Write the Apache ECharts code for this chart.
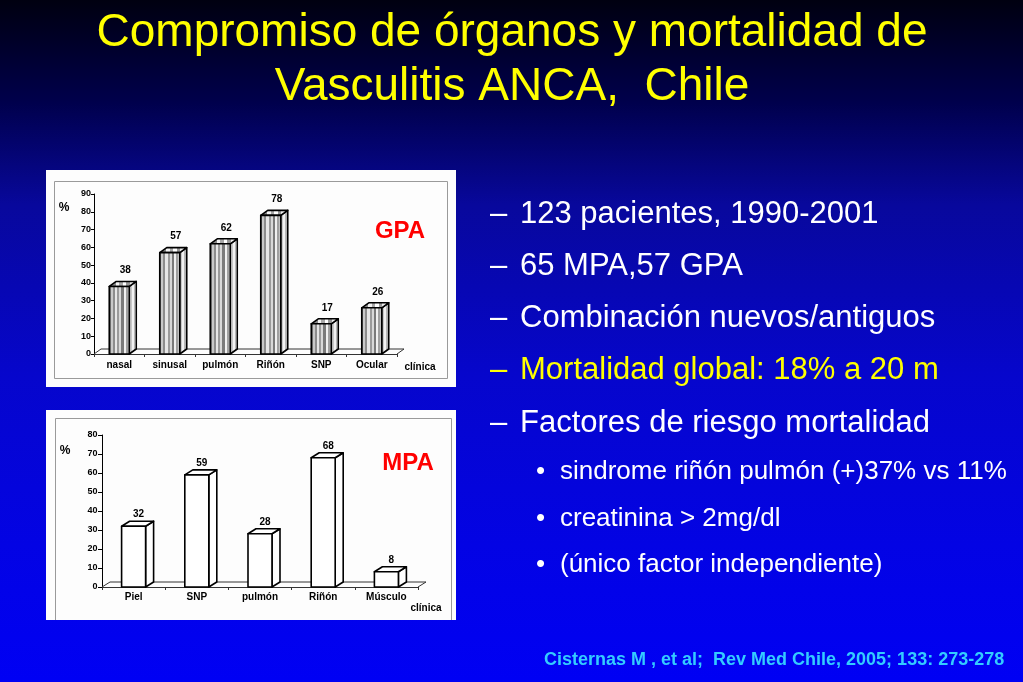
<!DOCTYPE html>
<html><head><meta charset="utf-8">
<script src="https://cdn.jsdelivr.net/npm/echarts@6/dist/echarts.min.js"></script>
<style>html,body{margin:0;padding:0;background:#000;}#c{width:1023px;height:682px;}</style>
</head><body><div id="c"></div>
<script>
// ---- data ----
const gpaCategories = ['nasal', 'sinusal', 'pulmón', 'Riñón', 'SNP', 'Ocular'];
const gpaValues = [38, 57, 62, 78, 17, 26];
const gpaTicks = [0, 10, 20, 30, 40, 50, 60, 70, 80, 90];
const mpaCategories = ['Piel', 'SNP', 'pulmón', 'Riñón', 'Músculo'];
const mpaValues = [32, 59, 28, 68, 8];
const mpaTicks = [0, 10, 20, 30, 40, 50, 60, 70, 80];
const titleLines = ['Compromiso de órganos y mortalidad de', 'Vasculitis ANCA,  Chile'];
const bullets = ['123 pacientes, 1990-2001', '65 MPA,57 GPA', 'Combinación nuevos/antiguos', 'Mortalidad global: 18% a 20 m', 'Factores de riesgo mortalidad'];
const subBullets = ['sindrome riñón pulmón (+)37% vs 11%', 'creatinina > 2mg/dl', '(único factor independiente)'];
const citation = 'Cisternas M , et al;  Rev Med Chile, 2005; 133: 273-278';

const FF = '"Liberation Sans", Arial, sans-serif';
const chart = echarts.init(document.getElementById('c'), null, {renderer: 'canvas'});

function stripes(colors) {
  const stops = []; const n = colors.length;
  colors.forEach((c, i) => { stops.push({offset: i / n, color: c}); stops.push({offset: (i + 1) / n, color: c}); });
  return new echarts.graphic.LinearGradient(0, 0, 1, 0, stops);
}
const gpaFront = stripes(['#707070','#c8c8c8','#8c8c8c','#e6e6e6','#9a9a9a','#d8d8d8','#7a7a7a','#f0f0f0','#a0a0a0','#cccccc']);
const gpaSide = stripes(['#ffffff','#c8c8c8','#f2f2f2','#b8b8b8','#ffffff']);
const gpaTop = stripes(['#e0e0e0','#8c8c8c','#f4f4f4','#a8a8a8','#ffffff','#989898','#eeeeee','#b8b8b8']);

function bar3d(cfg) {
  return function (params, api) {
    const idx = api.value(0), v = api.value(1);
    const b = api.coord([idx, 0]), t = api.coord([idx, v]);
    const w = cfg.w, dx = cfg.dx, dy = cfg.dy;
    const xl = b[0] - w / 2, xr = b[0] + w / 2, yb = b[1], yt = t[1];
    const st = {stroke: '#000', lineWidth: cfg.lw, lineJoin: 'round'};
    return {type: 'group', children: [
      {type: 'polygon', shape: {points: [[xr, yb], [xr, yt], [xr + dx, yt - dy], [xr + dx, yb - dy]]}, style: Object.assign({fill: cfg.side}, st)},
      {type: 'polygon', shape: {points: [[xl, yt], [xr, yt], [xr + dx, yt - dy], [xl + dx, yt - dy]]}, style: Object.assign({fill: cfg.top}, st)},
      {type: 'rect', shape: {x: xl, y: yt, width: w, height: yb - yt}, style: Object.assign({fill: cfg.front}, st)},
      {type: 'text', x: b[0] + cfg.lblDx, y: yt - dy - cfg.lblGap,
        style: {text: String(v), fill: '#000', font: 'bold 10px ' + FF, textAlign: 'center', textVerticalAlign: 'middle'}}
    ]};
  };
}
function floor(cfg) {
  return function (params, api) {
    const cs = params.coordSys;
    const x = cs.x, yb = cs.y + cs.height, w = cs.width;
    return {type: 'polyline', shape: {points: [[x, yb], [x + cfg.dx, yb - cfg.dy], [x + w + cfg.dx, yb - cfg.dy], [x + w, yb]]},
      style: {stroke: '#333', lineWidth: 1, fill: null}};
  };
}

const G = {w: 20, dx: 7, dy: 5, lw: 1.6, lblDx: 6, lblGap: 11, front: gpaFront, side: gpaSide, top: gpaTop};
const M = {w: 24, dx: 8, dy: 5, lw: 1.6, lblDx: 5, lblGap: 7, front: '#ffffff', side: '#ffffff', top: '#ffffff'};

function xAx(gi, cats, margin) {
  return {type: 'category', gridIndex: gi, data: cats,
    axisLine: {show: true, lineStyle: {color: '#333', width: 1}},
    axisTick: {show: true, length: 3, lineStyle: {color: '#333'}},
    axisLabel: {color: '#000', fontWeight: 'bold', fontSize: 10, fontFamily: FF, margin: margin}};
}
function yAx(gi, ticks, margin, tl) {
  return {type: 'value', gridIndex: gi, min: ticks[0], max: ticks[ticks.length - 1], interval: ticks[1] - ticks[0],
    axisLine: {show: true, lineStyle: {color: '#000', width: 1}},
    axisTick: {show: true, length: tl, lineStyle: {color: '#000'}},
    splitLine: {show: false},
    axisLabel: {color: '#000', fontWeight: 'bold', fontSize: 9, fontFamily: FF, margin: margin}};
}

const graphics = [
  {type: 'rect', shape: {x: 46, y: 170, width: 410, height: 217}, style: {fill: '#fdfdfd'}, z: -10},
  {type: 'rect', shape: {x: 54.5, y: 181.5, width: 393, height: 197}, style: {fill: null, stroke: '#9a9a9a', lineWidth: 1}, z: -9},
  {type: 'rect', shape: {x: 46, y: 410, width: 410, height: 210}, style: {fill: '#fdfdfd'}, z: -10},
  {type: 'polyline', shape: {points: [[55.5, 620], [55.5, 418.5], [451.5, 418.5], [451.5, 620]]}, style: {fill: null, stroke: '#9a9a9a', lineWidth: 1}, z: -9},
  {type: 'text', x: 64, y: 208, style: {text: '%', fill: '#000', font: 'bold 12px ' + FF, textAlign: 'center', textVerticalAlign: 'middle'}},
  {type: 'text', x: 420, y: 367, style: {text: 'clínica', fill: '#000', font: 'bold 10px ' + FF, textAlign: 'center', textVerticalAlign: 'middle'}},
  {type: 'text', x: 400, y: 231, style: {text: 'GPA', fill: '#ff0000', font: 'bold 24px ' + FF, textAlign: 'center', textVerticalAlign: 'middle'}},
  {type: 'text', x: 65, y: 451, style: {text: '%', fill: '#000', font: 'bold 12px ' + FF, textAlign: 'center', textVerticalAlign: 'middle'}},
  {type: 'text', x: 426, y: 608, style: {text: 'clínica', fill: '#000', font: 'bold 10px ' + FF, textAlign: 'center', textVerticalAlign: 'middle'}},
  {type: 'text', x: 408, y: 463, style: {text: 'MPA', fill: '#ff0000', font: 'bold 24px ' + FF, textAlign: 'center', textVerticalAlign: 'middle'}},
  {type: 'text', x: 544, y: 660, style: {text: citation, fill: '#33ccff', font: 'bold 18px ' + FF, textAlign: 'left', textVerticalAlign: 'middle'}}
];
titleLines.forEach((t, i) => graphics.push({type: 'text', x: 512, y: 33 + i * 54,
  style: {text: t, fill: '#ffff00', font: '46px ' + FF, textAlign: 'center', textVerticalAlign: 'middle'}}));
bullets.forEach((t, i) => {
  const col = i === 3 ? '#ffff00' : '#ffffff';
  const y = 214 + i * 52.3;
  graphics.push({type: 'text', x: 490, y: y, style: {text: '–', fill: col, font: '31px ' + FF, textAlign: 'left', textVerticalAlign: 'middle'}});
  graphics.push({type: 'text', x: 520, y: y, style: {text: t, fill: col, font: '31px ' + FF, textAlign: 'left', textVerticalAlign: 'middle'}});
});
subBullets.forEach((t, i) => {
  const y = 472 + i * 46.5;
  graphics.push({type: 'text', x: 536, y: y, style: {text: '•', fill: '#ffffff', font: '26px ' + FF, textAlign: 'left', textVerticalAlign: 'middle'}});
  graphics.push({type: 'text', x: 560, y: y, style: {text: t, fill: '#ffffff', font: '26px ' + FF, textAlign: 'left', textVerticalAlign: 'middle'}});
});

chart.setOption({
  animation: false,
  backgroundColor: new echarts.graphic.LinearGradient(0, 0, 0, 1, [
    {offset: 0, color: '#000010'}, {offset: 0.15, color: '#00004c'}, {offset: 0.3, color: '#08089c'},
    {offset: 0.55, color: '#0606cc'}, {offset: 0.8, color: '#0303e4'}, {offset: 1, color: '#0000f4'}]),
  grid: [
    {left: 94, top: 194, width: 303, height: 160},
    {left: 102, top: 435, width: 316, height: 152}
  ],
  xAxis: [xAx(0, gpaCategories, 6), xAx(1, mpaCategories, 5)],
  yAxis: [yAx(0, gpaTicks, 3, 3), yAx(1, mpaTicks, 4.5, 4)],
  graphic: graphics,
  series: [
    {type: 'custom', xAxisIndex: 0, yAxisIndex: 0, renderItem: floor(G), data: [[0, 0]], z: 1, silent: true},
    {type: 'custom', xAxisIndex: 0, yAxisIndex: 0, renderItem: bar3d(G), data: gpaValues.map((v, i) => [i, v]), z: 2, silent: true},
    {type: 'custom', xAxisIndex: 1, yAxisIndex: 1, renderItem: floor(M), data: [[0, 0]], z: 1, silent: true},
    {type: 'custom', xAxisIndex: 1, yAxisIndex: 1, renderItem: bar3d(M), data: mpaValues.map((v, i) => [i, v]), z: 2, silent: true}
  ]
});
</script>
</body></html>
